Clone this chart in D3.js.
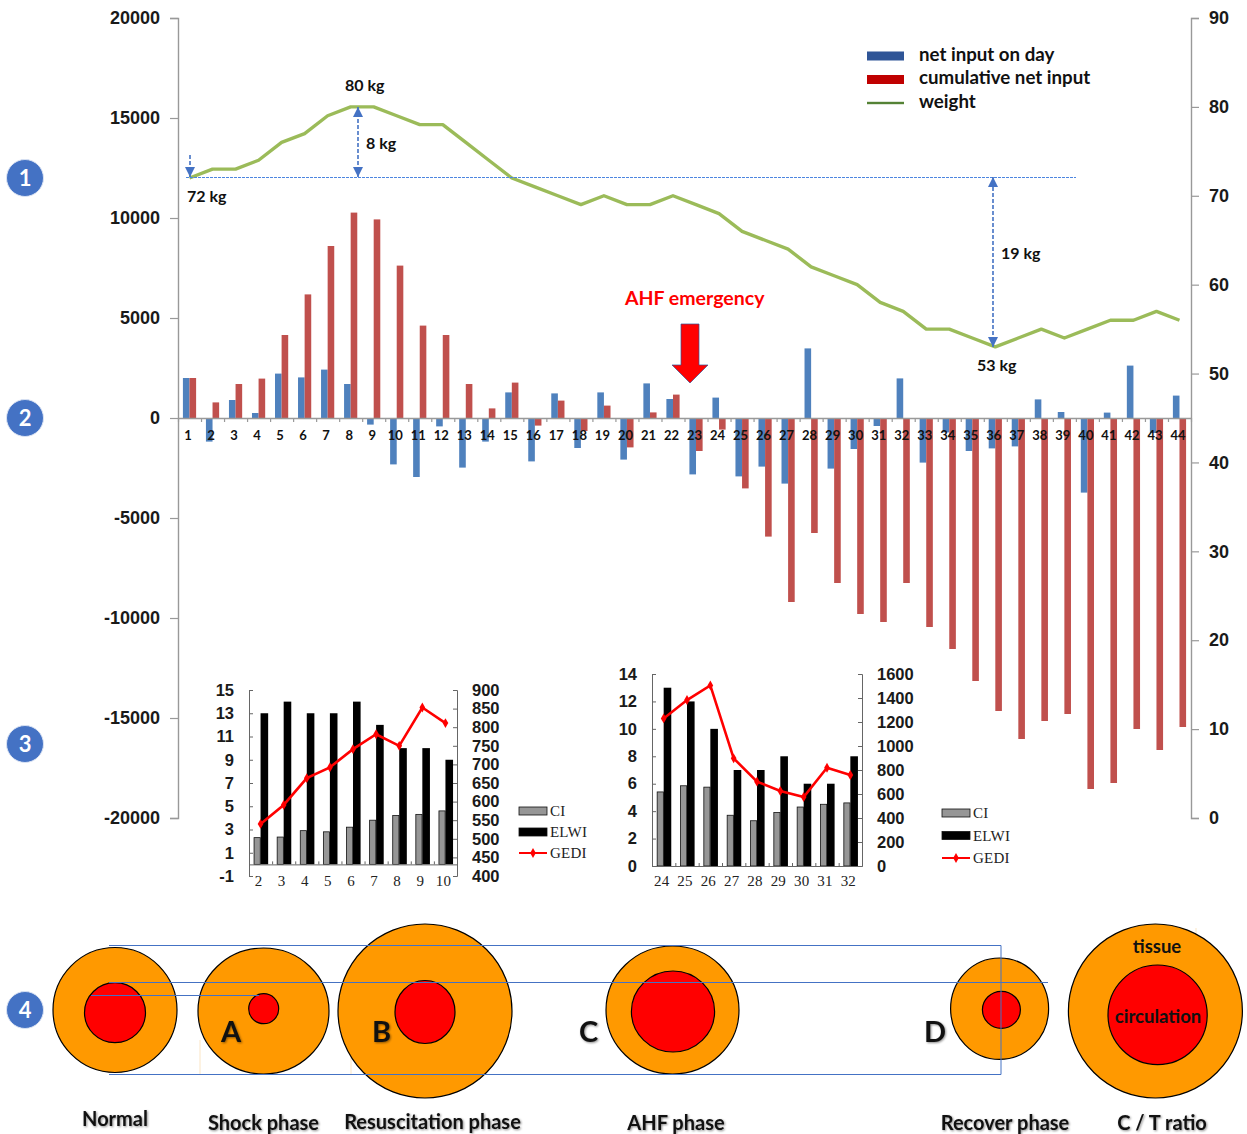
<!DOCTYPE html>
<html>
<head>
<meta charset="utf-8">
<script src="https://cdn.jsdelivr.net/npm/d3@7.9.0/dist/d3.min.js"></script>
<style>
  html, body { margin: 0; padding: 0; background: #fff; }
  svg { display: block; }
  .lato { font-family: Lato, "Noto Sans", sans-serif; font-weight: 700; fill: #111; }
  .arial { font-family: "Liberation Sans", Arial, sans-serif; font-weight: 700; fill: #1a1a1a; font-size: 16.5px; }
  .arial.big { font-size: 18px; }
  .serif { font-family: "Liberation Serif", serif; fill: #222; font-size: 15px; letter-spacing: 0.2px; }
  .soft { filter: drop-shadow(1px 1px 1px rgba(0,0,0,0.45)); }
</style>
</head>
<body>
<div id="chart"></div>
<script>
// =========================================
// DATA
// =========================================
const days = d3.range(1, 45);

const netInput = [2000, -1180, 900, 250, 2220, 2030, 2420, 1700, -330, -2320, -2950,
  -420, -2480, -1180, 1280, -2170, 1230, -1500, 1280, -2080, 1730, 950,
  -2820, 1020, -2920, -2430, -3280, 3480, -2530, -1550, -400, 1980, -2230,
  -720, -1650, -1520, -1420, 930, 300, -3730, 270, 2620, -750, 1120];

const cumulativeInput = [2000, 780, 1700, 1970, 4150, 6180, 8600, 10270, 9930, 7620, 4620,
  4150, 1700, 480, 1770, -380, 870, -650, 620, -1470, 280, 1170,
  -1650, -580, -3520, -5930, -9200, -5750, -8250, -9800, -10200, -8250, -10450,
  -11550, -13150, -14650, -16050, -15150, -14800, -18550, -18250, -15550, -16600, -15450];

const weight = [72, 73, 73, 74, 76, 77, 79, 80, 80, 79, 78,
  78, 76, 74, 72, 71, 70, 69, 70, 69, 69, 70,
  69, 68, 66, 65, 64, 62, 61, 60, 58, 57, 55,
  55, 54, 53, 54, 55, 54, 55, 56, 56, 57, 56];

const inputTicks = [-20000, -15000, -10000, -5000, 0, 5000, 10000, 15000, 20000];
const weightTicks = [0, 10, 20, 30, 40, 50, 60, 70, 80, 90];

// inset 1, days 2-10
const earlyDays = [2, 3, 4, 5, 6, 7, 8, 9, 10];
const earlyCI = [2.3, 2.35, 2.9, 2.8, 3.2, 3.8, 4.2, 4.3, 4.6];
const earlyELWI = [13, 14, 13, 13, 14, 12, 10, 10, 9];
const earlyGEDI = [540, 591, 663, 692, 741, 781, 750, 853, 811];
const earlyLeftTicks = [-1, 1, 3, 5, 7, 9, 11, 13, 15];
const earlyRightTicks = [400, 450, 500, 550, 600, 650, 700, 750, 800, 850, 900];

// inset 2, days 24-32
const lateDays = [24, 25, 26, 27, 28, 29, 30, 31, 32];
const lateCI = [5.4, 5.85, 5.75, 3.7, 3.3, 3.9, 4.3, 4.5, 4.6];
const lateELWI = [13, 12, 10, 7, 7, 8, 6, 6, 8];
const lateGEDI = [1230, 1383, 1505, 897, 703, 625, 575, 819, 758];
const lateLeftTicks = [0, 2, 4, 6, 8, 10, 12, 14];
const lateRightTicks = [0, 200, 400, 600, 800, 1000, 1200, 1400, 1600];

const legendNames = ["net input on day", "cumulative net input", "weight"];
const insetNames = ["CI", "ELWI", "GEDI"];
const phaseNames = ["Normal", "Shock phase", "Resuscitation phase", "AHF phase", "Recover phase", "C / T ratio"];

// =========================================
// MAIN CHART
// =========================================
const width = 1247;
const height = 1134;
const BLUE = "#4F81BD";
const RED = "#C0504D";
const GREEN = "#9BBB59";
const NOTE = "#4472C4";
const AXIS = "#999";

// plain hyphen on the negative labels, no thousands comma
const plainNumber = v => String(v);

const svg = d3.select("#chart").append("svg")
  .attr("width", width)
  .attr("height", height);

svg.append("defs").append("marker")
  .attr("id", "arrowhead")
  .attr("viewBox", "0 0 10 10")
  .attr("refX", 10)
  .attr("refY", 5)
  .attr("markerWidth", 11)
  .attr("markerHeight", 10)
  .attr("markerUnits", "userSpaceOnUse")
  .attr("orient", "auto-start-reverse")
  .append("path")
  .attr("d", "M 0 0 L 10 5 L 0 10 z")
  .attr("fill", NOTE);

const x = d3.scaleBand().domain(days).range([178, 1191]);
const y = d3.scaleLinear().domain([-20000, 20000]).range([818, 18]);
const yWeight = d3.scaleLinear().domain([0, 90]).range([818, 18]);
const barW = 6.6;

function styleAxis(g, color) {
  g.selectAll(".domain").attr("stroke", color).attr("stroke-width", 1.4);
  g.selectAll(".tick line").attr("stroke", color).attr("stroke-width", 1.2);
}

svg.append("g")
  .attr("transform", "translate(178,0)")
  .call(d3.axisLeft(y).tickValues(inputTicks).tickSize(8).tickPadding(10).tickFormat(plainNumber))
  .call(styleAxis, AXIS)
  .call(g => g.selectAll("text").attr("class", "arial big"));

svg.append("g")
  .attr("transform", "translate(1191,0)")
  .call(d3.axisRight(yWeight).tickValues(weightTicks).tickSize(8).tickPadding(10).tickFormat(plainNumber))
  .call(styleAxis, AXIS)
  .call(g => g.selectAll("text").attr("class", "arial big"));

// bars
svg.append("g").selectAll("rect")
  .data(days)
  .join("rect")
  .attr("x", d => x(d) + x.bandwidth() / 2 - barW)
  .attr("width", barW)
  .attr("y", (d, i) => Math.min(y(0), y(netInput[i])))
  .attr("height", (d, i) => Math.abs(y(netInput[i]) - y(0)))
  .attr("fill", BLUE);

svg.append("g").selectAll("rect")
  .data(days)
  .join("rect")
  .attr("x", d => x(d) + x.bandwidth() / 2)
  .attr("width", barW)
  .attr("y", (d, i) => Math.min(y(0), y(cumulativeInput[i])))
  .attr("height", (d, i) => Math.abs(y(cumulativeInput[i]) - y(0)))
  .attr("fill", RED);

// day axis: marks sit between the bars, labels go over them
const dayEdges = d3.scaleLinear().domain([0, 44]).range([178, 1191]);
svg.append("g")
  .attr("transform", `translate(0,${y(0)})`)
  .call(d3.axisBottom(dayEdges).ticks(44).tickSize(4).tickSizeOuter(0).tickFormat(""))
  .call(styleAxis, AXIS);

svg.append("g").selectAll("text")
  .data(days)
  .join("text")
  .attr("class", "lato")
  .attr("x", d => x(d) + x.bandwidth() / 2 - 1.5)
  .attr("y", y(0) + 22)
  .attr("text-anchor", "middle")
  .style("font-size", "13px")
  .text(d => d);

// weight line
const weightLine = d3.line()
  .x(d => x(d) + x.bandwidth() / 2)
  .y((d, i) => yWeight(weight[i]));

svg.append("path")
  .datum(days)
  .attr("fill", "none")
  .attr("stroke", GREEN)
  .attr("stroke-width", 3.4)
  .attr("stroke-linejoin", "round")
  .attr("d", weightLine);

// =========================================
// WEIGHT ANNOTATIONS
// =========================================
const dash = "4 2";
const baseY = yWeight(72) - 1;

svg.append("line")
  .attr("x1", 186).attr("x2", 1076)
  .attr("y1", baseY + 0.5).attr("y2", baseY + 0.5)
  .attr("stroke", "#4d86e0").attr("stroke-width", 1).attr("stroke-dasharray", "3 1");

function noteArrow(xPos, from, to, both) {
  svg.append("line")
    .attr("x1", xPos).attr("x2", xPos)
    .attr("y1", from).attr("y2", to)
    .attr("stroke", NOTE)
    .attr("stroke-width", 1.6)
    .attr("stroke-dasharray", dash)
    .attr("marker-end", "url(#arrowhead)")
    .attr("marker-start", both ? "url(#arrowhead)" : null);
}
noteArrow(190, 155, baseY, false);
noteArrow(358, yWeight(80), baseY, true);
noteArrow(993, yWeight(53), baseY, true);

const kgNotes = [
  { label: "80 kg", px: 345, py: 91 },
  { label: "8 kg", px: 366, py: 149 },
  { label: "72 kg", px: 187, py: 202 },
  { label: "19 kg", px: 1001, py: 259 },
  { label: "53 kg", px: 977, py: 371 }
];
svg.append("g").selectAll("text")
  .data(kgNotes)
  .join("text")
  .attr("class", "lato")
  .attr("x", d => d.px)
  .attr("y", d => d.py)
  .style("font-size", "16px")
  .text(d => d.label);

// AHF marker
svg.append("text")
  .attr("class", "lato")
  .attr("x", 625).attr("y", 305)
  .style("fill", "#f00")
  .style("font-size", "19.5px")
  .text("AHF emergency");

svg.append("path")
  .attr("d", "M681 324 H699 V365 H708 L690 383 L672 365 H681 Z")
  .attr("fill", "#f00")
  .attr("stroke", "#2f5597")
  .attr("stroke-width", 0.7);

// =========================================
// MAIN LEGEND
// =========================================
const legend = svg.append("g");
const legendColors = ["#2F5597", "#C00000", "#548235"];
legendNames.forEach((name, i) => {
  const ly = 56 + i * 23.5;
  legend.append("rect")
    .attr("x", 867).attr("width", 37)
    .attr("y", i < 2 ? ly - 4.5 : ly - 1.2)
    .attr("height", i < 2 ? 9 : 2.4)
    .attr("fill", legendColors[i]);
  legend.append("text")
    .attr("class", "lato")
    .attr("x", 919).attr("y", ly + 4.5)
    .style("font-size", "18.7px")
    .text(name);
});

// =========================================
// INSETS
// =========================================
function drawInset(opt) {
  const g = svg.append("g");
  const ix = d3.scaleBand().domain(opt.days).range([opt.left, opt.right]);
  const iy = d3.scaleLinear().domain(opt.leftDomain).range([opt.bottom, opt.top]);
  const iy2 = d3.scaleLinear().domain(opt.rightDomain).range([opt.bottom, opt.top]);
  const mid = d => ix(d) + ix.bandwidth() / 2;
  const inkAxis = s => {
    s.selectAll(".domain").attr("stroke", "#666").attr("stroke-width", 1);
    s.selectAll(".tick line").attr("stroke", "#666");
    s.selectAll("text").attr("class", "arial");
  };

  g.append("g").selectAll("rect")
    .data(opt.days)
    .join("rect")
    .attr("x", d => mid(d) - 6.5)
    .attr("width", 6.2)
    .attr("y", (d, i) => iy(opt.ci[i]))
    .attr("height", (d, i) => iy(0) - iy(opt.ci[i]))
    .attr("fill", "#969696")
    .attr("stroke", "#111")
    .attr("stroke-width", 0.8);

  g.append("g").selectAll("rect")
    .data(opt.days)
    .join("rect")
    .attr("x", d => mid(d))
    .attr("width", 7.6)
    .attr("y", (d, i) => iy(opt.elwi[i]))
    .attr("height", (d, i) => iy(0) - iy(opt.elwi[i]))
    .attr("fill", "#000");

  g.append("g")
    .attr("transform", `translate(${opt.left},0)`)
    .call(d3.axisLeft(iy).tickValues(opt.leftTicks).tickSize(-4).tickPadding(15).tickFormat(plainNumber))
    .call(inkAxis);

  g.append("g")
    .attr("transform", `translate(${opt.right},0)`)
    .call(d3.axisRight(iy2).tickValues(opt.rightTicks).tickSize(-4).tickPadding(15).tickFormat(plainNumber))
    .call(inkAxis);

  const edges = d3.scaleLinear().domain([0, opt.days.length]).range([opt.left, opt.right]);
  g.append("g")
    .attr("transform", `translate(0,${iy(0)})`)
    .call(d3.axisBottom(edges).ticks(opt.days.length).tickSize(-3).tickSizeOuter(0).tickFormat(""))
    .call(s => {
      s.selectAll(".domain").attr("stroke", "#666");
      s.selectAll(".tick line").attr("stroke", "#666");
    });

  g.append("g").selectAll("text")
    .data(opt.days)
    .join("text")
    .attr("class", "serif")
    .attr("x", d => mid(d) - 2)
    .attr("y", 886)
    .attr("text-anchor", "middle")
    .text(d => d);

  const line = d3.line().x(d => mid(d)).y((d, i) => iy2(opt.gedi[i]));
  g.append("path")
    .datum(opt.days)
    .attr("fill", "none")
    .attr("stroke", "#f00")
    .attr("stroke-width", 2.6)
    .attr("d", line);

  const diamond = d3.symbol().type(d3.symbolDiamond).size(28);
  g.append("g").selectAll("path")
    .data(opt.days)
    .join("path")
    .attr("transform", (d, i) => `translate(${mid(d)},${iy2(opt.gedi[i])})`)
    .attr("d", diamond)
    .attr("fill", "#f00");

  // legend
  insetNames.forEach((name, i) => {
    const ly = opt.legendY + i * opt.legendStep;
    if (i < 2) {
      g.append("rect")
        .attr("x", opt.legendX).attr("y", ly - 4)
        .attr("width", 28).attr("height", 8)
        .attr("fill", i === 0 ? "#969696" : "#000")
        .attr("stroke", "#111").attr("stroke-width", 0.8);
    } else {
      g.append("line")
        .attr("x1", opt.legendX).attr("x2", opt.legendX + 28)
        .attr("y1", ly).attr("y2", ly)
        .attr("stroke", "#f00").attr("stroke-width", 2);
      g.append("path")
        .attr("transform", `translate(${opt.legendX + 14},${ly})`)
        .attr("d", diamond)
        .attr("fill", "#f00");
    }
    g.append("text")
      .attr("class", "serif")
      .attr("x", opt.legendX + 31).attr("y", ly + 5)
      .text(name);
  });
}

drawInset({
  days: earlyDays, ci: earlyCI, elwi: earlyELWI, gedi: earlyGEDI,
  leftDomain: [-1, 15], rightDomain: [400, 900],
  leftTicks: earlyLeftTicks, rightTicks: earlyRightTicks,
  left: 249, right: 457, top: 690, bottom: 876,
  legendX: 519, legendY: 811, legendStep: 21
});

drawInset({
  days: lateDays, ci: lateCI, elwi: lateELWI, gedi: lateGEDI,
  leftDomain: [0, 14], rightDomain: [0, 1600],
  leftTicks: lateLeftTicks, rightTicks: lateRightTicks,
  left: 652, right: 862, top: 674, bottom: 866,
  legendX: 942, legendY: 813, legendStep: 22.5
});

// =========================================
// PHASE DIAGRAM
// =========================================
const phaseCircles = [
  { cx: 115, cy: 1010, rx: 62, ry: 62.5, icx: 115, icy: 1012.7, irx: 30.5, iry: 30 },
  { cx: 263.5, cy: 1011, rx: 65.5, ry: 63, icx: 263.7, icy: 1008.7, irx: 15, iry: 15 },
  { cx: 425, cy: 1011, rx: 87, ry: 87, icx: 425, icy: 1012, irx: 30, iry: 31.5 },
  { cx: 672.5, cy: 1010, rx: 66.5, ry: 64, icx: 673, icy: 1011.5, irx: 41.6, iry: 40.5 },
  { cx: 999.6, cy: 1008.7, rx: 49, ry: 50.7, icx: 1001.4, icy: 1009.8, irx: 19, iry: 18.5 },
  { cx: 1155.4, cy: 1011, rx: 87, ry: 87, icx: 1157.6, icy: 1014.8, irx: 49.6, iry: 49.8 }
];

const diagram = svg.append("g");

// faint leftovers around the pasted circles
diagram.append("path")
  .attr("d", "M200 1040 V1075 M351 1040 V1075 M1196 928 V935")
  .attr("stroke", "#fbe5c4")
  .attr("fill", "none");

diagram.selectAll("ellipse.tissue")
  .data(phaseCircles)
  .join("ellipse")
  .attr("class", "tissue")
  .attr("cx", d => d.cx).attr("cy", d => d.cy)
  .attr("rx", d => d.rx).attr("ry", d => d.ry)
  .attr("fill", "#FF9900")
  .attr("stroke", "#000")
  .attr("stroke-width", 1.2);

diagram.selectAll("ellipse.circulation")
  .data(phaseCircles)
  .join("ellipse")
  .attr("class", "circulation")
  .attr("cx", d => d.icx).attr("cy", d => d.icy)
  .attr("rx", d => d.irx).attr("ry", d => d.iry)
  .attr("fill", "#f00")
  .attr("stroke", "#000")
  .attr("stroke-width", 1.2);

diagram.append("path")
  .attr("d", "M109 945.5 H1001 V1074.5 H109 M109 982.5 H1048 M91 995.5 H259")
  .attr("fill", "none")
  .attr("stroke", NOTE)
  .attr("stroke-width", 1);

const stageLetters = [
  { label: "A", px: 231 }, { label: "B", px: 381.5 },
  { label: "C", px: 588.5 }, { label: "D", px: 935 }
];
diagram.append("g").attr("class", "soft").selectAll("text")
  .data(stageLetters)
  .join("text")
  .attr("class", "lato")
  .attr("x", d => d.px).attr("y", 1042)
  .attr("text-anchor", "middle")
  .style("font-size", "29px")
  .text(d => d.label);

const phaseX = [115, 263.5, 432.5, 676, 1005, 1162];
const phaseY = [1126, 1129.5, 1129, 1129.5, 1129.5, 1129.5];
diagram.append("g").attr("class", "soft").selectAll("text")
  .data(phaseNames)
  .join("text")
  .attr("class", "lato")
  .attr("x", (d, i) => phaseX[i]).attr("y", (d, i) => phaseY[i])
  .attr("text-anchor", "middle")
  .style("font-size", "20px")
  .text(d => d);

diagram.append("text")
  .attr("class", "lato")
  .attr("x", 1157).attr("y", 953)
  .attr("text-anchor", "middle")
  .style("font-size", "18.5px")
  .text("tissue");

diagram.append("text")
  .attr("class", "lato")
  .attr("x", 1158).attr("y", 1023)
  .attr("text-anchor", "middle")
  .style("font-size", "18.5px")
  .text("circulation");

// =========================================
// NUMBERED BADGES
// =========================================
const badges = [
  { n: 1, cy: 178 }, { n: 2, cy: 418 }, { n: 3, cy: 744 }, { n: 4, cy: 1010 }
];
const badge = svg.append("g").selectAll("g")
  .data(badges)
  .join("g")
  .attr("transform", d => `translate(25,${d.cy})`);

badge.append("circle")
  .attr("r", 18.5)
  .attr("fill", "#4472C4")
  .attr("stroke", "#d9e2f3")
  .attr("stroke-width", 1);

badge.append("text")
  .attr("class", "lato")
  .attr("y", 8)
  .attr("text-anchor", "middle")
  .style("fill", "#fff")
  .style("font-size", "22px")
  .text(d => d.n);
</script>
</body>
</html>
